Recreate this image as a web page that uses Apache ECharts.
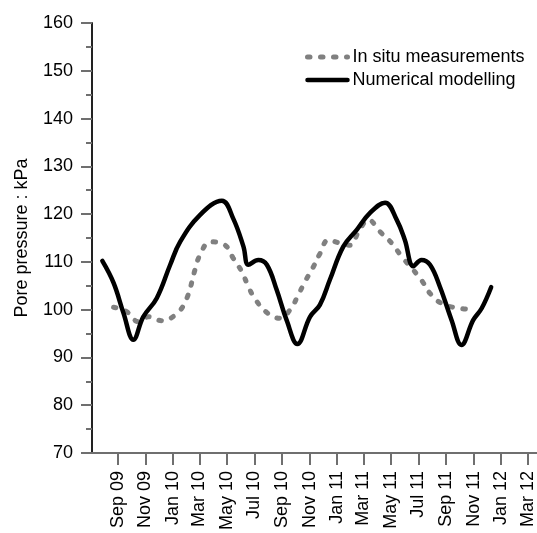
<!DOCTYPE html>
<html>
<head>
<meta charset="utf-8">
<script src="https://cdn.jsdelivr.net/npm/echarts@6/dist/echarts.min.js"></script>
<style>
html,body{margin:0;padding:0;background:#fff;}
#chart{width:537px;height:533px;}
</style>
</head>
<body>
<div id="chart"></div>
<script>
// ---- data ----
const seriesNames = ['In situ measurements', 'Numerical modelling'];

const insituDates = ['2009-08-22','2009-09-20','2009-10-16','2009-11-07','2009-12-07','2010-01-10','2010-02-01','2010-02-19','2010-03-02','2010-03-25','2010-04-27','2010-05-15','2010-06-03','2010-06-18','2010-07-03','2010-07-29','2010-08-27','2010-09-19','2010-10-07','2010-10-22','2010-11-08','2010-11-24','2010-12-13','2011-01-08','2011-01-30','2011-02-20','2011-03-12','2011-04-07','2011-05-03','2011-05-25','2011-06-16','2011-07-08','2011-07-27','2011-08-22','2011-09-28','2011-11-04'];
const insituValues = [100.5,99.6,97.5,98.5,97.7,99.2,102.4,108.3,111.4,114.2,113.5,110.8,108.0,104.8,102.2,99.4,98.2,100.0,103.1,105.9,108.7,111.7,114.6,113.9,113.5,116.7,118.8,116.3,113.9,111.1,108.7,106.2,103.4,101.3,100.3,100.0];

const modelDates = ['2009-07-28','2009-08-22','2009-09-13','2009-10-05','2009-10-27','2009-11-26','2009-12-26','2010-01-17','2010-03-02','2010-04-20','2010-05-15','2010-06-07','2010-06-18','2010-07-10','2010-07-29','2010-08-20','2010-09-11','2010-10-05','2010-11-02','2010-11-24','2010-12-16','2011-01-15','2011-02-14','2011-03-15','2011-04-18','2011-05-14','2011-06-01','2011-06-20','2011-07-08','2011-07-27','2011-08-18','2011-09-13','2011-10-05','2011-10-31','2011-11-19','2011-12-10'];
const modelValues = [110.2,105.6,99.3,93.7,98.5,102.4,109.4,114.2,119.8,122.8,119.1,113.2,109.4,110.4,109.4,104.1,97.8,92.8,98.5,101.0,106.2,113.2,116.7,120.2,122.4,118.8,114.6,109.1,110.4,109.4,104.8,97.8,92.6,97.8,100.3,104.7];

const tickDates = ['2009-09-01','2009-11-01','2010-01-01','2010-03-01','2010-05-01','2010-07-01','2010-09-01','2010-11-01','2011-01-01','2011-03-01','2011-05-01','2011-07-01','2011-09-01','2011-11-01','2012-01-01','2012-03-01'];
const tickLabels = ['Sep 09','Nov 09','Jan 10','Mar 10','May 10','Jul 10','Sep 10','Nov 10','Jan 11','Mar 11','May 11','Jul 11','Sep 11','Nov 11','Jan 12','Mar 12'];

const xMinDate = '2009-07-05';
const xMaxDate = '2012-03-21';
const yTicks = [70, 160, 10];

// ---- helpers ----
function ts(s){ const p = s.split('-').map(Number); return Date.UTC(p[0], p[1]-1, p[2]); }
const tickTs = tickDates.map(ts);
const labelMap = {};
tickTs.forEach((t,i)=>{ labelMap[t] = tickLabels[i]; });

const FONT = 'Liberation Sans, Arial, sans-serif';
const dotStyle = { color: '#808080', width: 5, type: [2.5, 10.5], cap: 'round' };
const solidStyle = { color: '#000', width: 4.5, cap: 'round' };

const chart = echarts.init(document.getElementById('chart'), null, {renderer:'canvas'});
chart.setOption({
  animation: false,
  backgroundColor: '#fff',
  grid: { left: 92, right: 0, top: 23, bottom: 80, containLabel: false },
  legend: {
    orient: 'vertical',
    left: 305, top: 47, padding: 0,
    itemWidth: 40, itemHeight: 14, itemGap: 3,
    itemStyle: { opacity: 0 },
    textStyle: { fontFamily: FONT, fontSize: 18, color: '#000', lineHeight: 20 },
    data: [
      { name: seriesNames[0], itemStyle: { opacity: 0 }, lineStyle: dotStyle },
      { name: seriesNames[1], itemStyle: { opacity: 0 }, lineStyle: solidStyle }
    ]
  },
  xAxis: {
    type: 'value',
    min: ts(xMinDate), max: ts(xMaxDate),
    splitLine: { show: false },
    axisLine: { show: true, lineStyle: { color: '#6f6f6f', width: 2 } },
    axisTick: { show: true, length: 12, customValues: tickTs, lineStyle: { color: '#6f6f6f', width: 2 } },
    axisLabel: {
      customValues: tickTs,
      rotate: 90, margin: 18,
      fontFamily: FONT, fontSize: 18, color: '#000',
      formatter: v => labelMap[v] || ''
    }
  },
  yAxis: {
    type: 'value',
    min: yTicks[0], max: yTicks[1], interval: yTicks[2],
    name: 'Pore pressure : kPa',
    nameLocation: 'middle', nameGap: 61, nameRotate: 90,
    nameTextStyle: { fontFamily: FONT, fontSize: 18, color: '#000' },
    splitLine: { show: false },
    axisLine: { show: true, lineStyle: { color: '#222', width: 2 } },
    axisTick: { show: true, length: 11, lineStyle: { color: '#6f6f6f', width: 2 } },
    minorTick: { show: true, splitNumber: 2, length: 6, lineStyle: { color: '#6f6f6f', width: 2 } },
    axisLabel: { margin: 19, fontFamily: FONT, fontSize: 18, color: '#000' }
  },
  series: [
    {
      name: seriesNames[0], type: 'line', smooth: 0.4, showSymbol: false, symbol: 'none',
      data: insituDates.map((d,i)=>[ts(d), insituValues[i]]),
      lineStyle: dotStyle,
      itemStyle: { color: '#808080' }
    },
    {
      name: seriesNames[1], type: 'line', smooth: 0.4, showSymbol: false, symbol: 'none',
      data: modelDates.map((d,i)=>[ts(d), modelValues[i]]),
      lineStyle: solidStyle,
      itemStyle: { color: '#000' }
    }
  ]
});
</script>
</body>
</html>
